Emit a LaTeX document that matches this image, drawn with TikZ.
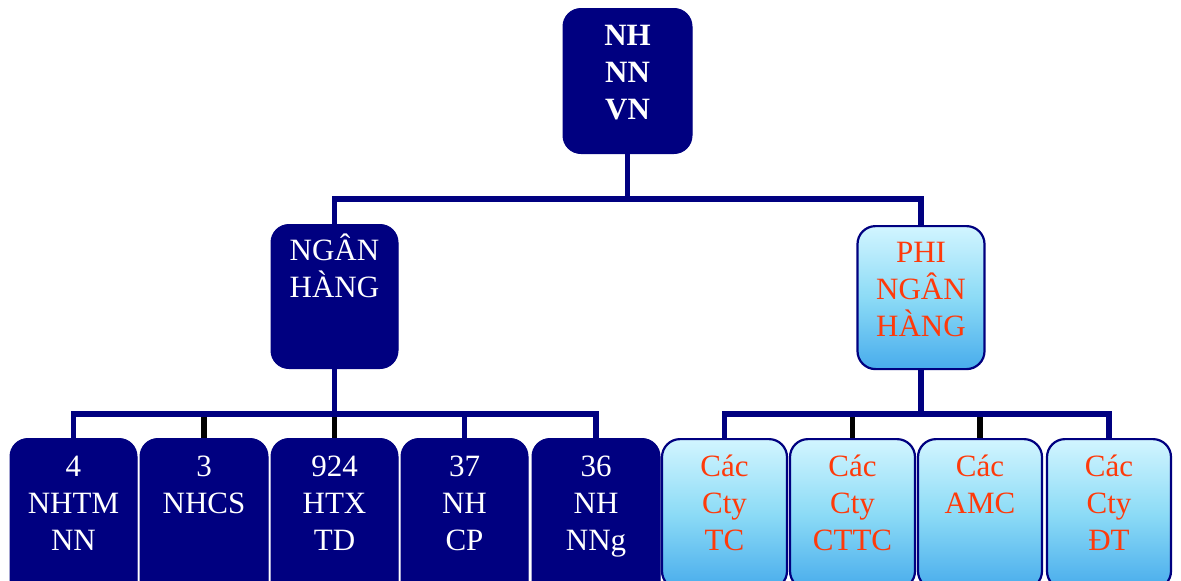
\documentclass[tikz,border=0pt]{standalone}
\usepackage{fontspec}
\setmainfont{Liberation Serif}
\definecolor{navyb}{HTML}{000080}
\definecolor{redt}{HTML}{FF3A0A}
\definecolor{lbtop}{HTML}{D2F5FF}
\definecolor{lbmid}{HTML}{8CDBF6}
\definecolor{lbbot}{HTML}{48ACEC}
\newcommand\mystrut{\rule{0pt}{30pt}}
\tikzset{
  darkbox/.style={draw=navyb, fill=navyb, line width=1pt, rounded corners=18pt,
    minimum width=#1, anchor=north, inner sep=0},
  lightbox/.style={draw=navyb, line width=2.2pt, rounded corners=18pt,
    top color=lbtop, bottom color=lbbot, middle color=lbmid,
    minimum width=#1, anchor=north, inner sep=0},
  txt/.style={anchor=north, inner sep=0, text width=125pt, align=center,
    font=\fontsize{31}{37}\selectfont},
  wtxt/.style={txt, text=white},
  rtxt/.style={txt, text=redt},
  conn/.style={draw=navyb, line width=5.5pt},
  connk/.style={draw=black, line width=5.5pt},
}
\begin{document}
\begin{tikzpicture}[x=1pt,y=1pt]
\useasboundingbox (0,0) rectangle (1181,-581);
\clip (0,0) rectangle (1181,-581);
\fill[white] (0,0) rectangle (1181,-581);

% coordinates of connector bars
\coordinate (barT) at (0,-199);
\coordinate (barL) at (0,-414);

% boxes
\node[darkbox=129pt, minimum height=145pt] (top) at (627.5,-8) {};
\node[darkbox=127pt, minimum height=144pt] (ng) at (334.5,-224) {};
\node[lightbox=127pt, minimum height=143pt] (phi) at (921,-225) {};

\node[darkbox=127pt, minimum height=180pt] (b1) at (73.5,-438) {};
\node[darkbox=128pt, minimum height=180pt] (b2) at (204,-438) {};
\node[darkbox=127pt, minimum height=180pt] (b3) at (334.5,-438) {};
\node[darkbox=127pt, minimum height=180pt] (b4) at (464.5,-438) {};
\node[darkbox=128pt, minimum height=180pt] (b5) at (596,-438) {};
\node[lightbox=125pt, minimum height=150pt] (c1) at (724.5,-438) {};
\node[lightbox=125pt, minimum height=150pt] (c2) at (852.5,-438) {};
\node[lightbox=124pt, minimum height=150pt] (c3) at (980,-438) {};
\node[lightbox=124pt, minimum height=150pt] (c4) at (1109,-438) {};

% connectors
\draw[conn] (top.south) -- (top.south |- barT);
\draw[conn] (ng.north) -- (ng.north |- barT) -- (phi.north |- barT) -- (phi.north);
\draw[conn] (ng.south) -- (ng.south |- barL);
\draw[conn] (phi.south) -- (phi.south |- barL);
\draw[conn] (b1.north) -- (b1.north |- barL) -- (b5.north |- barL) -- (b5.north);
\draw[connk] ([yshift=-3pt]b2.north |- barL) -- (b2.north);
\draw[connk] ([yshift=-3pt]b3.north |- barL) -- (b3.north);
\draw[conn] (b4.north |- barL) -- (b4.north);
\draw[conn] (c1.north) -- (c1.north |- barL) -- (c4.north |- barL) -- (c4.north);
\draw[connk] ([yshift=-3pt]c2.north |- barL) -- (c2.north);
\draw[connk] ([yshift=-3pt]c3.north |- barL) -- (c3.north);

% texts
\node[wtxt, font=\fontsize{31}{37}\selectfont\bfseries] (topT) at ([yshift=-7pt]top.north) {\mystrut NH\\NN\\VN};
\node[wtxt] (ngT) at ([yshift=-6pt]ng.north) {\mystrut NGÂN\\HÀNG};
\node[rtxt] (phiT) at ([yshift=-7pt]phi.north) {\mystrut PHI\\NGÂN\\HÀNG};

\node[wtxt] (b1T) at ([yshift=-8pt]b1.north) {\mystrut 4\\NHTM\\NN};
\node[wtxt] (b2T) at ([yshift=-8pt]b2.north) {\mystrut 3\\NHCS};
\node[wtxt] (b3T) at ([yshift=-8pt]b3.north) {\mystrut 924\\HTX\\TD};
\node[wtxt] (b4T) at ([yshift=-8pt]b4.north) {\mystrut 37\\NH\\CP};
\node[wtxt] (b5T) at ([yshift=-8pt]b5.north) {\mystrut 36\\NH\\NNg};
\node[rtxt] (c1T) at ([yshift=-8pt]c1.north) {\mystrut Các\\Cty\\TC};
\node[rtxt] (c2T) at ([yshift=-8pt]c2.north) {\mystrut Các\\Cty\\CTTC};
\node[rtxt] (c3T) at ([yshift=-8pt]c3.north) {\mystrut Các\\AMC};
\node[rtxt] (c4T) at ([yshift=-8pt]c4.north) {\mystrut Các\\Cty\\ĐT};
\end{tikzpicture}
\end{document}
